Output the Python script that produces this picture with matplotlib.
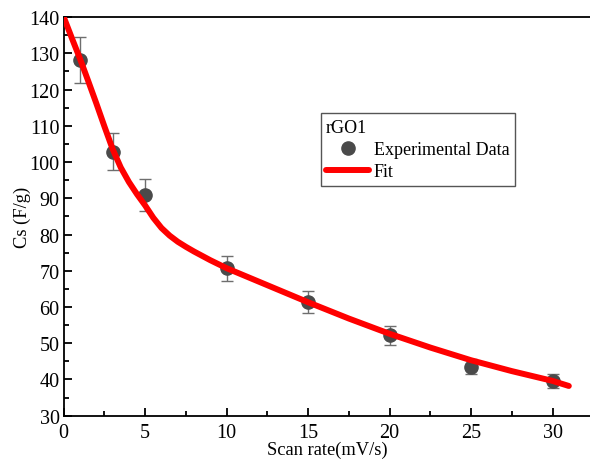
import matplotlib.pyplot as plt
from matplotlib.ticker import MultipleLocator

plt.rcParams['font.family'] = ['Liberation Serif', 'DejaVu Serif']

scan_rate = [1, 3, 5, 10, 15, 20, 25, 30]
cs = [128.2, 102.9, 90.9, 70.7, 61.4, 52.2, 43.5, 39.6]
cs_err = [6.3, 5.1, 4.5, 3.5, 3.1, 2.6, 2.1, 1.9]

# Fit curve points
fit_x = [0, 0.5, 1, 1.5, 2, 2.5, 3, 3.5, 4, 4.5, 5, 5.5, 6, 6.5, 7, 7.5,
         8, 9, 10, 12.5, 15, 17.5, 20, 22.5, 25, 27.5, 30, 31]
fit_y = [140, 134.2, 128.5, 122.4, 116.2, 109.8, 103.6, 98.5, 94.5, 91.1,
         88.0, 84.6, 81.8, 79.7, 78.0, 76.6, 75.3, 72.9, 70.7, 66.0,
         61.3, 56.8, 52.6, 48.8, 45.3, 42.3, 39.6, 38.2]

fig = plt.figure(figsize=(5.9, 4.64), dpi=100)
ax = fig.add_axes([0.108, 0.102, 0.892, 0.859])

ax.errorbar(scan_rate, cs, yerr=cs_err, fmt='none', ecolor='#6e6e6e',
            elinewidth=1.0, capsize=4, capthick=1.0, zorder=2)
ax.plot(scan_rate, cs, 'o', color='#4a4a4a', markersize=9.5,
        label='Experimental Data', zorder=3)
ax.plot(fit_x, fit_y, '-', color='#ff0000', linewidth=4.3,
        solid_capstyle='round', solid_joinstyle='round', label='Fit', zorder=4)

ax.set_xlim(0, 32.3)
ax.set_ylim(30, 140)
ax.xaxis.set_major_locator(MultipleLocator(5))
ax.xaxis.set_minor_locator(MultipleLocator(2.5))
ax.yaxis.set_major_locator(MultipleLocator(10))
ax.yaxis.set_minor_locator(MultipleLocator(5))
ax.tick_params(which='both', direction='in', top=False, right=False,
               labelsize=14.5, width=1.3, color='black')
ax.tick_params(which='major', length=6)
ax.tick_params(which='minor', length=3.5)
ax.tick_params(axis='x', pad=5)
ax.tick_params(axis='y', pad=3)
for side in ['left', 'bottom', 'top']:
    ax.spines[side].set_linewidth(1.3)
ax.spines['right'].set_visible(False)

ax.set_xlabel('Scan rate(mV/s)', fontsize=13.3, labelpad=-1)
ax.set_ylabel('Cs (F/g)', fontsize=13.3, labelpad=-1.5)

leg = ax.legend(title='rGO1', loc='upper left', bbox_to_anchor=(0.488, 0.759),
                borderaxespad=0, fontsize=13, title_fontsize=13,
                handlelength=2.4, handletextpad=0.25, borderpad=0.3,
                labelspacing=0.3, fancybox=False, framealpha=1,
                edgecolor='#555555')
leg._legend_box.align = 'left'
leg.get_frame().set_linewidth(1.0)

fig.savefig('out.png', dpi=100)
